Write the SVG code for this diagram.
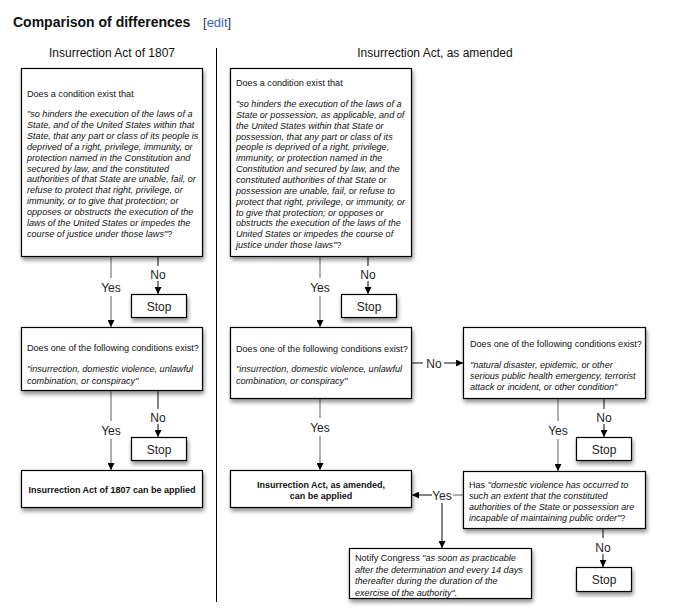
<svg xmlns="http://www.w3.org/2000/svg" width="683" height="608" viewBox="0 0 683 608">
<style>
.t{font-family:"Liberation Sans",Arial,sans-serif;fill:#111}
.s{font-size:9.1px}
.i{font-style:italic}
.b{font-weight:bold;font-size:9px}
.lab{font-size:12px;fill:#222}
.box{fill:#fff;stroke:#000;stroke-width:1.2;filter:url(#sh)}
.yes{stroke:#7a7a7a;stroke-width:1.2;fill:none}
.no{stroke:#333;stroke-width:1.2;fill:none}
.arr{marker-end:url(#ah)}
</style>
<defs>
<filter id="sh" x="-10%" y="-10%" width="125%" height="135%">
<feDropShadow dx="1" dy="3" stdDeviation="2" flood-color="#000" flood-opacity="0.45"/>
</filter>
<marker id="ah" viewBox="0 0 10 10" refX="10" refY="5" markerWidth="7" markerHeight="7" markerUnits="userSpaceOnUse" orient="auto">
<path d="M0,0 L10,5 L0,10 z" fill="#000"/>
</marker>
</defs>
<rect width="683" height="608" fill="#fff"/>
<g id="header">
<text class="t" x="13" y="27" font-size="14" font-weight="bold">Comparison of differences</text>
<text class="t" x="203" y="27" font-size="13"><tspan fill="#334">[</tspan><tspan fill="#3366bb">edit</tspan><tspan fill="#334">]</tspan></text>
<text class="t" x="112" y="57" font-size="12" text-anchor="middle">Insurrection Act of 1807</text>
<text class="t" x="435" y="57" font-size="12" text-anchor="middle">Insurrection Act, as amended</text>
<line x1="216.5" y1="48" x2="216.5" y2="602" stroke="#000" stroke-width="1"/>
</g>
<g id="connectors">
<line class="yes" x1="111" y1="257" x2="111" y2="278"/>
<line class="yes arr" x1="111" y1="296" x2="111" y2="327"/>
<line class="no" x1="158" y1="257" x2="158" y2="266"/>
<line class="no arr" x1="158" y1="281" x2="158" y2="294"/>
<line class="yes" x1="111" y1="391" x2="111" y2="421"/>
<line class="yes arr" x1="111" y1="439" x2="111" y2="470"/>
<line class="no" x1="158" y1="391" x2="158" y2="409"/>
<line class="no arr" x1="158" y1="424" x2="158" y2="437"/>
<line class="yes" x1="320" y1="257" x2="320" y2="278"/>
<line class="yes arr" x1="320" y1="296" x2="320" y2="327"/>
<line class="no" x1="368" y1="257" x2="368" y2="266"/>
<line class="no arr" x1="368" y1="281" x2="368" y2="294"/>
<line class="yes" x1="320" y1="399" x2="320" y2="418"/>
<line class="yes arr" x1="320" y1="436" x2="320" y2="470"/>
<line class="no" x1="412" y1="363" x2="423" y2="363"/>
<line class="no arr" x1="444" y1="363" x2="463" y2="363"/>
<line class="yes" x1="558" y1="399" x2="558" y2="421"/>
<line class="yes arr" x1="558" y1="439" x2="558" y2="471"/>
<line class="no" x1="604" y1="399" x2="604" y2="409"/>
<line class="no arr" x1="604" y1="424" x2="604" y2="437"/>
<line class="no" x1="603" y1="529" x2="603" y2="538"/>
<line class="no arr" x1="603" y1="554" x2="603" y2="567"/>
<line class="yes" x1="464" y1="495" x2="453" y2="495"/>
<line class="no arr" x1="432" y1="495" x2="412" y2="495"/>
<line class="no arr" x1="442" y1="503" x2="442" y2="548"/>
<text class="t lab" x="111" y="291.5" text-anchor="middle">Yes</text>
<text class="t lab" x="158" y="278.5" text-anchor="middle">No</text>
<text class="t lab" x="111" y="434.5" text-anchor="middle">Yes</text>
<text class="t lab" x="158" y="421.5" text-anchor="middle">No</text>
<text class="t lab" x="320" y="291.5" text-anchor="middle">Yes</text>
<text class="t lab" x="368" y="278.5" text-anchor="middle">No</text>
<text class="t lab" x="320" y="431.5" text-anchor="middle">Yes</text>
<text class="t lab" x="434" y="367.5" text-anchor="middle">No</text>
<text class="t lab" x="558" y="434.5" text-anchor="middle">Yes</text>
<text class="t lab" x="604" y="421.5" text-anchor="middle">No</text>
<text class="t lab" x="603" y="551.5" text-anchor="middle">No</text>
<text class="t lab" x="442" y="499.5" text-anchor="middle">Yes</text>
</g>
<g id="left-q1">
<rect class="box" x="21.5" y="68.5" width="181" height="188"/>
<text class="t s" x="27" y="96.5">Does a condition exist that</text>
<text class="t s i" x="27">
<tspan x="27" y="117">"so hinders the execution of the laws of a</tspan>
<tspan x="27" y="127.9">State, and of the United States within that</tspan>
<tspan x="27" y="138.8">State, that any part or class of its people is</tspan>
<tspan x="27" y="149.7">deprived of a right, privilege, immunity, or</tspan>
<tspan x="27" y="160.6">protection named in the Constitution and</tspan>
<tspan x="27" y="171.5">secured by law, and the constituted</tspan>
<tspan x="27" y="182.4">authorities of that State are unable, fail, or</tspan>
<tspan x="27" y="193.3">refuse to protect that right, privilege, or</tspan>
<tspan x="27" y="204.2">immunity, or to give that protection; or</tspan>
<tspan x="27" y="215.1">opposes or obstructs the execution of the</tspan>
<tspan x="27" y="226">laws of the United States or impedes the</tspan>
<tspan x="27" y="236.9">course of justice under those laws"<tspan font-style="normal">?</tspan></tspan>
</text>
</g>
<g id="right-q1">
<rect class="box" x="230.5" y="68.5" width="181" height="188"/>
<text class="t s" x="236" y="86">Does a condition exist that</text>
<text class="t s i" x="236">
<tspan x="236" y="107">"so hinders the execution of the laws of a</tspan>
<tspan x="236" y="117.85">State or possession, as applicable, and of</tspan>
<tspan x="236" y="128.7">the United States within that State or</tspan>
<tspan x="236" y="139.55">possession, that any part or class of its</tspan>
<tspan x="236" y="150.4">people is deprived of a right, privilege,</tspan>
<tspan x="236" y="161.25">immunity, or protection named in the</tspan>
<tspan x="236" y="172.1">Constitution and secured by law, and the</tspan>
<tspan x="236" y="182.95">constituted authorities of that State or</tspan>
<tspan x="236" y="193.8">possession are unable, fail, or refuse to</tspan>
<tspan x="236" y="204.65">protect that right, privilege, or immunity, or</tspan>
<tspan x="236" y="215.5">to give that protection; or opposes or</tspan>
<tspan x="236" y="226.35">obstructs the execution of the laws of the</tspan>
<tspan x="236" y="237.2">United States or impedes the course of</tspan>
<tspan x="236" y="248.05">justice under those laws"<tspan font-style="normal">?</tspan></tspan>
</text>
</g>
<g id="left-stop1">
<rect class="box" x="131.5" y="294.5" width="55" height="23"/>
<text class="t lab" x="159" y="310.5" text-anchor="middle">Stop</text>
</g>
<g id="right-stop1">
<rect class="box" x="341.5" y="294.5" width="55" height="23"/>
<text class="t lab" x="369" y="310.5" text-anchor="middle">Stop</text>
</g>
<g id="left-q2">
<rect class="box" x="21.5" y="327.5" width="181" height="63"/>
<text class="t s" x="27" y="351">Does one of the following conditions exist?</text>
<text class="t s i"><tspan x="27" y="372">"insurrection, domestic violence, unlawful</tspan><tspan x="27" y="384">combination, or conspiracy"</tspan></text>
</g>
<g id="right-q2">
<rect class="box" x="230.5" y="327.5" width="181" height="71"/>
<text class="t s" x="236" y="352">Does one of the following conditions exist?</text>
<text class="t s i"><tspan x="236" y="372">"insurrection, domestic violence, unlawful</tspan><tspan x="236" y="384">combination, or conspiracy"</tspan></text>
</g>
<g id="cond-q">
<rect class="box" x="463.5" y="327.5" width="182" height="71"/>
<text class="t s" x="470" y="347">Does one of the following conditions exist?</text>
<text class="t s i"><tspan x="470" y="368">"natural disaster, epidemic, or other</tspan><tspan x="470" y="379">serious public health emergency, terrorist</tspan><tspan x="470" y="390">attack or incident, or other condition"</tspan></text>
</g>
<g id="left-stop2">
<rect class="box" x="131.5" y="437.5" width="55" height="23"/>
<text class="t lab" x="159" y="453.5" text-anchor="middle">Stop</text>
</g>
<g id="cond-stop">
<rect class="box" x="576.5" y="437.5" width="55" height="23"/>
<text class="t lab" x="604" y="453.5" text-anchor="middle">Stop</text>
</g>
<g id="left-apply">
<rect class="box" x="21.5" y="470.5" width="181" height="37"/>
<text class="t b" x="112" y="493" text-anchor="middle">Insurrection Act of 1807 can be applied</text>
</g>
<g id="right-apply">
<rect class="box" x="230.5" y="470.5" width="181" height="37"/>
<text class="t b" x="321" y="488" text-anchor="middle">Insurrection Act, as amended,</text>
<text class="t b" x="321" y="499" text-anchor="middle">can be applied</text>
</g>
<g id="has-q">
<rect class="box" x="463.5" y="471.5" width="182" height="57"/>
<text class="t s"><tspan x="469" y="488">Has </tspan><tspan font-style="italic">"domestic violence has occurred to</tspan></text>
<text class="t s i"><tspan x="469" y="499">such an extent that the constituted</tspan><tspan x="469" y="510">authorities of the State or possession are</tspan><tspan x="469" y="521">incapable of maintaining public order"<tspan font-style="normal">?</tspan></tspan></text>
</g>
<g id="has-stop">
<rect class="box" x="576.5" y="567.5" width="55" height="24"/>
<text class="t lab" x="604" y="584" text-anchor="middle">Stop</text>
</g>
<g id="notify">
<rect class="box" x="349.5" y="548.5" width="182" height="50"/>
<text class="t s"><tspan x="355" y="561">Notify Congress </tspan><tspan font-style="italic">"as soon as practicable</tspan></text>
<text class="t s i"><tspan x="355" y="572.5">after the determination and every 14 days</tspan><tspan x="355" y="584">thereafter during the duration of the</tspan><tspan x="355" y="595.5">exercise of the authority".</tspan></text>
</g>
</svg>
